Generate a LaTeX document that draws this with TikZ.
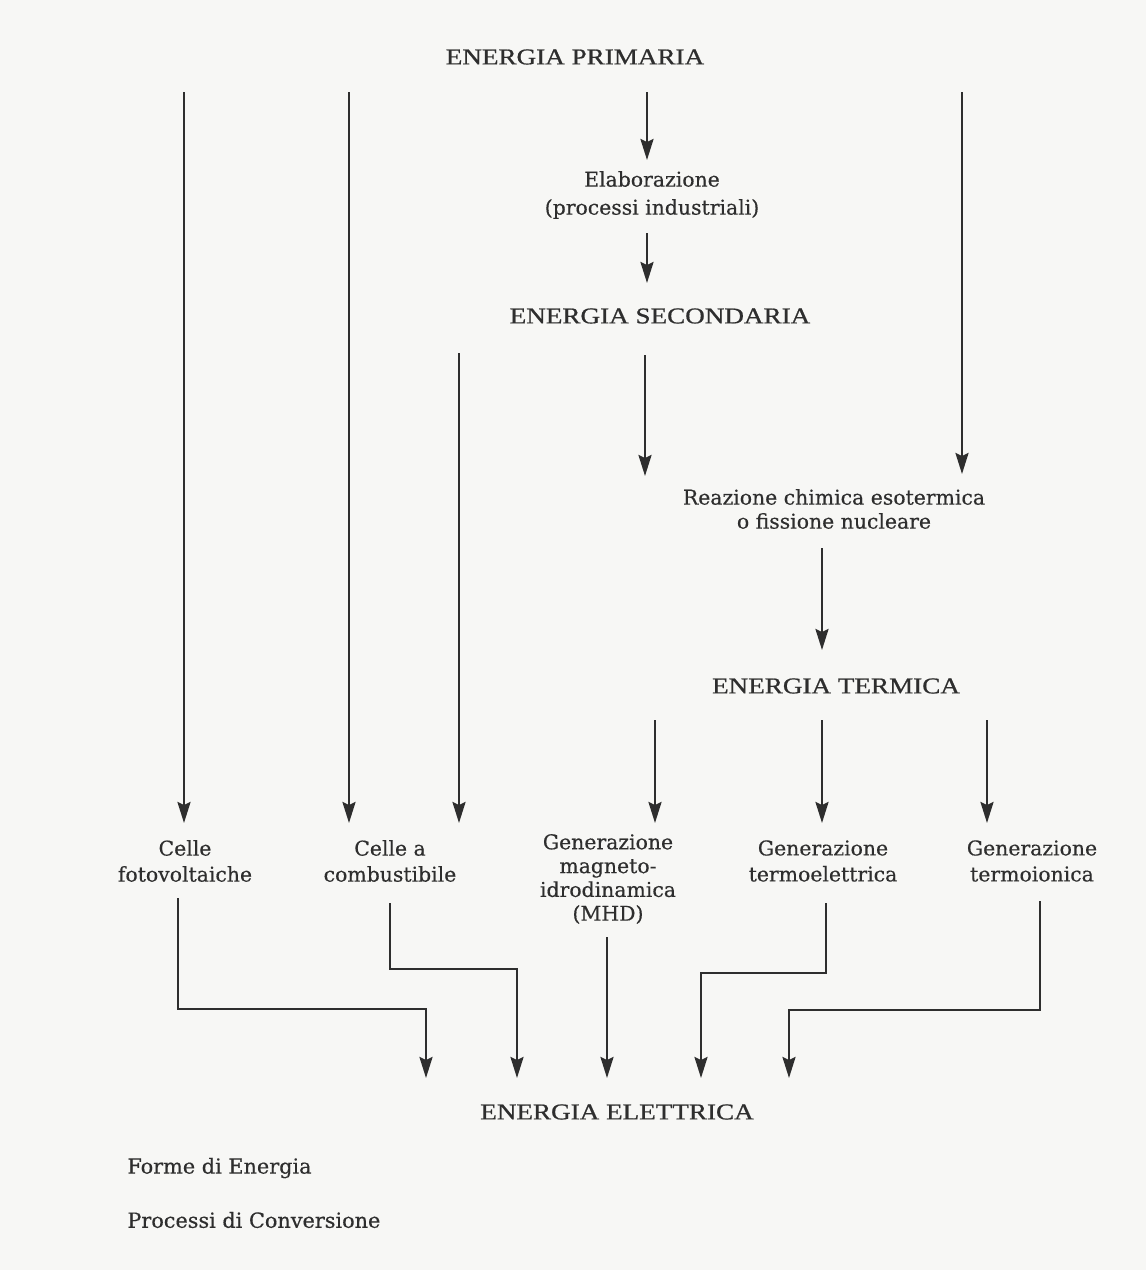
\documentclass[tikz,border=0pt]{standalone}
\usepackage{fontspec}
\setmainfont{DejaVu Serif}
\newfontfamily\capsfont[FakeStretch=1.2,FakeBold=0.8]{Liberation Serif}
\newfontfamily\lblfont[FakeBold=0.4]{DejaVu Serif}
\usetikzlibrary{arrows.meta}
\definecolor{ink}{HTML}{2E2E2E}
\definecolor{paper}{HTML}{F7F7F5}
\tikzset{
  title/.style={text=ink, inner sep=0pt, font=\capsfont\fontsize{11.3}{13}\selectfont},
  lbl/.style={text=ink, inner sep=0pt, align=center, font=\lblfont\fontsize{10.2}{13}\selectfont},
  note/.style={text=ink, inner sep=0pt, anchor=west, font=\lblfont\fontsize{10.4}{12}\selectfont},
  arr/.style={draw=ink, line width=1.2pt, -{Stealth[length=10.5pt,width=6.5pt,inset=1.5pt]}},
  ln/.style={draw=ink, line width=1.2pt}
}
\begin{document}
\begin{tikzpicture}[x=0.5pt,y=-0.5pt]
\fill[paper] (0,0) rectangle (1146,1270);
\useasboundingbox (0,0) rectangle (1146,1270);
% nodes
\node[title] (prim) at (575,57) {ENERGIA PRIMARIA};
\node[lbl, font=\lblfont\fontsize{10.2}{14}\selectfont] (elab) at (652,195) {Elaborazione\\(processi industriali)};
\node[title] (sec) at (660,316) {ENERGIA SECONDARIA};
\node[lbl, font=\lblfont\fontsize{10.2}{12}\selectfont] (reaz) at (834,509) {Reazione chimica esotermica\\o fissione nucleare};
\node[title] (term) at (836,686) {ENERGIA TERMICA};
\node[lbl] (cfv) at (185,861) {Celle\\fotovoltaiche};
\node[lbl] (cc) at (390,861) {Celle a\\combustibile};
\node[lbl, font=\lblfont\fontsize{10.2}{11.9}\selectfont] (mhd) at (608,879) {Generazione\\magneto-\\idrodinamica\\(MHD)};
\node[lbl] (tel) at (823,861) {Generazione\\termoelettrica};
\node[lbl] (tio) at (1032,861) {Generazione\\termoionica};
\node[title] (elet) at (617,1112) {ENERGIA ELETTRICA};
\node[note] (forme) at (127,1168) {Forme di Energia};
\node[note] (proc) at (127,1220) {Processi di Conversione};
% coordinates
\coordinate (a1s) at (647,92);  \coordinate (a1e) at (647,160);
\coordinate (a2s) at (647,233); \coordinate (a2e) at (647,283);
\coordinate (a3s) at (645,355); \coordinate (a3e) at (645,476);
\coordinate (r1s) at (962,92);  \coordinate (r1e) at (962,474);
\coordinate (a4s) at (822,548); \coordinate (a4e) at (822,650);
\coordinate (l1s) at (184,92);  \coordinate (l1e) at (184,823);
\coordinate (l2s) at (349,92);  \coordinate (l2e) at (349,823);
\coordinate (l3s) at (459,353); \coordinate (l3e) at (459,823);
\coordinate (t1s) at (655,720); \coordinate (t1e) at (655,823);
\coordinate (t2s) at (822,720); \coordinate (t2e) at (822,823);
\coordinate (t3s) at (987,720); \coordinate (t3e) at (987,823);
% connectors top
\draw[arr] (a1s) -- (a1e);
\draw[arr] (a2s) -- (a2e);
\draw[arr] (a3s) -- (a3e);
\draw[arr] (r1s) -- (r1e);
\draw[arr] (a4s) -- (a4e);
\draw[arr] (l1s) -- (l1e);
\draw[arr] (l2s) -- (l2e);
\draw[arr] (l3s) -- (l3e);
\draw[arr] (t1s) -- (t1e);
\draw[arr] (t2s) -- (t2e);
\draw[arr] (t3s) -- (t3e);
% connectors bottom
\coordinate (b1s) at (178,898);  \coordinate (b1e) at (426,1078);
\coordinate (b2s) at (390,903);  \coordinate (b2e) at (517,1078);
\coordinate (b3s) at (607,937);  \coordinate (b3e) at (607,1078);
\coordinate (b4s) at (826,903);  \coordinate (b4e) at (701,1078);
\coordinate (b5s) at (1040,901); \coordinate (b5e) at (789,1078);
\draw[arr] (b1s) |- (426,1009) -- (b1e);
\draw[arr] (b2s) |- (517,969) -- (b2e);
\draw[arr] (b3s) -- (b3e);
\draw[arr] (b4s) |- (701,973) -- (b4e);
\draw[arr] (b5s) |- (789,1010) -- (b5e);
\end{tikzpicture}
\end{document}
